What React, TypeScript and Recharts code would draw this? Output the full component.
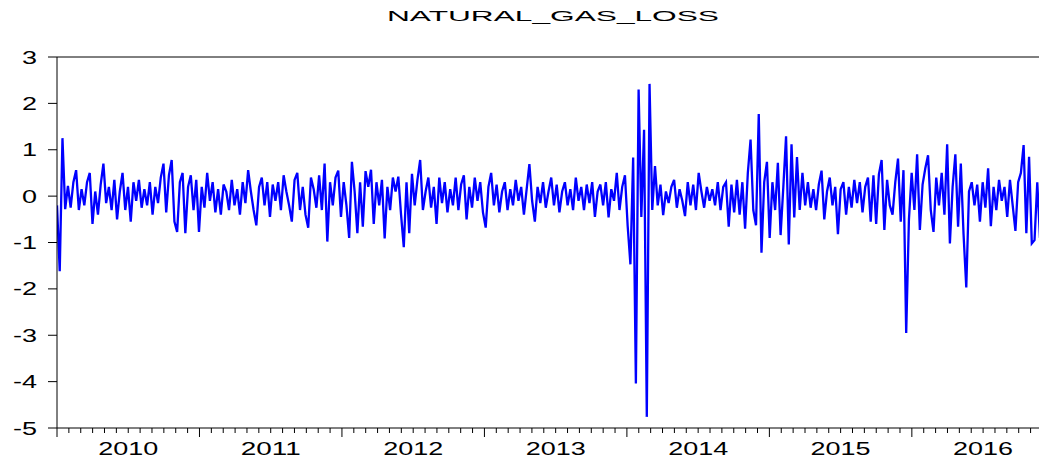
import { Line, LineChart, ReferenceLine, XAxis, YAxis } from "recharts";

// weekly readings of the series, grouped roughly by calendar year
const weeks2010 = [
  -0.2, -1.62, 1.25, -0.28, 0.22, -0.25, 0.3, 0.56, -0.3, 0.15, -0.2, 0.3, 0.5, -0.6, 0.1, -0.4, 0.25, 0.7,
  -0.15, 0.2, -0.3, 0.35, -0.5, 0.1, 0.5, -0.3, 0.2, -0.55, 0.3, -0.1, 0.35, -0.25, 0.15, -0.2, 0.3, -0.4,
  0.2, -0.15, 0.4, 0.7, -0.35, 0.45, 0.78, -0.55, -0.77, 0.3, 0.5, -0.8, 0.2, 0.45, -0.3, 0.35, -0.77,
];
const weeks2011 = [
  0.2, -0.25, 0.5, -0.1, 0.3, -0.35, 0.15, -0.4, 0.25, 0.1, -0.3, 0.35, -0.2, 0.15, -0.4, 0.3, -0.15, 0.56,
  0.1, -0.3, -0.63, 0.2, 0.4, -0.2, 0.3, -0.45, 0.25, -0.1, 0.3, -0.3, 0.45, 0.1, -0.2, -0.55, 0.35, 0.5,
  -0.3, 0.2, -0.4, -0.68, 0.4, 0.15, -0.25, 0.45, -0.3, 0.7, -0.98, 0.3, -0.2, 0.4, 0.55, -0.45, 0.3,
];
const weeks2012 = [
  -0.2, -0.9, 0.74, 0.1, -0.8, 0.3, -0.66, 0.54, 0.2, 0.57, -0.6, 0.3, -0.2, 0.35, -0.91, 0.2, -0.3, 0.4,
  0.1, 0.42, -0.4, -1.1, 0.3, -0.8, 0.48, -0.2, 0.35, 0.78, -0.3, 0.1, 0.4, -0.25, 0.2, -0.6, 0.4, -0.15,
  0.3, -0.35, 0.15, -0.2, 0.4, -0.3, 0.25, 0.45, -0.5, 0.2, -0.25, 0.4, -0.1, 0.3, -0.35, -0.68,
];
const weeks2013 = [
  0.2, 0.5, -0.2, 0.25, -0.35, 0.1, 0.3, -0.3, 0.15, -0.2, 0.35, -0.1, 0.2, -0.4, 0.15, 0.69, -0.1, -0.55,
  0.2, -0.15, 0.3, -0.25, 0.1, 0.4, -0.2, 0.25, -0.35, 0.1, 0.3, -0.2, 0.15, -0.3, 0.4, -0.1, 0.2, -0.3,
  0.25, -0.15, 0.3, -0.45, 0.1, 0.25, -0.2, 0.3, -0.46, 0.15, -0.1, 0.5, -0.3, 0.2, 0.45, -0.65,
];
const weeks2014 = [
  -1.47, 0.83, -4.04, 2.3, -0.45, 1.43, -4.76, 2.42, -0.3, 0.65, -0.2, 0.25, -0.41, 0.1, -0.15, 0.2, 0.35,
  -0.25, 0.15, -0.1, -0.43, 0.3, -0.2, 0.25, -0.3, 0.5, 0.1, -0.25, 0.2, -0.1, 0.15, -0.2, 0.3, -0.3, 0.2,
  0.3, -0.66, 0.25, -0.35, 0.35, -0.4, 0.3, -0.7, 0.5, 1.22, -0.3, -0.63, 1.77, -1.22, 0.3, 0.74, -0.9,
];
const weeks2015 = [
  0.3, -0.3, 0.72, -0.84, 0.2, 1.29, -1.04, 1.12, -0.46, 0.84, -0.3, 0.5, -0.2, 0.3, -0.25, 0.15, -0.3,
  0.25, 0.55, -0.5, 0.1, 0.4, -0.2, 0.2, -0.82, 0.15, 0.3, -0.4, 0.2, -0.25, 0.35, -0.15, 0.3, -0.35, 0.2,
  0.4, -0.55, 0.45, -0.6, 0.47, 0.78, -0.73, 0.35, -0.2, -0.4, 0.3, 0.81, -0.55, 0.56, -2.95, -0.5, 0.5,
];
const weeks2016 = [
  -0.3, 0.9, -0.73, 0.25, 0.6, 0.88, -0.3, -0.77, 0.4, -0.2, 0.5, -0.4, 1.12, -1.02, 0.2, 0.9, -0.66, 0.7,
  -0.82, -1.97, 0.1, 0.3, -0.2, 0.25, -0.55, 0.3, -0.25, 0.6, -0.65, 0.2, -0.3, 0.35, -0.1, 0.2, -0.45,
  0.35, -0.2, -0.75, 0.3, 0.5, 1.1, -0.8, 0.85, -1.02, -0.95, 0.3, -0.9,
];

const years = [2010, 2011, 2012, 2013, 2014, 2015, 2016];
const yTicks = [-5, -4, -3, -2, -1, 0, 1, 2, 3];

const WEEK = 7 / 365.25;
const series = [weeks2010, weeks2011, weeks2012, weeks2013, weeks2014, weeks2015, weeks2016].flat();
const data = series.map((v, i) => ({ t: 2010 + i * WEEK, loss: v }));
const tEnd = data[data.length - 1].t;

const monthTicks = years
  .flatMap((y) => Array.from({ length: 12 }, (_, m) => y + m / 12))
  .filter((t) => t <= tEnd);

const FONT = "'Liberation Sans', Arial, sans-serif";

function MonthTick({ x, y, payload }: any) {
  const t = payload.value as number;
  const year = Math.floor(t + 1e-6);
  const m = Math.round((t - year) * 12);
  return (
    <g>
      <line x1={x} y1={y} x2={x} y2={y + (m === 0 ? 9 : 5)} stroke="#000" />
      {m === 6 && (
        <text
          x={x}
          y={y + 27}
          textAnchor="middle"
          fontSize={18}
          fontFamily={FONT}
          fill="#000"
          textLength={60}
          lengthAdjust="spacingAndGlyphs"
        >
          {year}
        </text>
      )}
    </g>
  );
}

function ValueTick({ x, y, payload }: any) {
  return (
    <text
      transform={`translate(${x},${y + 6.5}) scale(1.5,1)`}
      textAnchor="end"
      fontSize={18}
      fontFamily={FONT}
      fill="#000"
    >
      {payload.value}
    </text>
  );
}

export default function App() {
  return (
    <div style={{ position: "absolute", left: 0, top: 0, width: 1039, height: 459, overflow: "hidden", background: "#fff" }}>
      <LineChart width={1041} height={459} data={data} margin={{ top: 57, right: 1, bottom: 0, left: 0 }}>
        <XAxis
          dataKey="t"
          type="number"
          domain={[2010, tEnd]}
          ticks={monthTicks}
          interval={0}
          tick={<MonthTick />}
          tickLine={false}
          tickSize={0}
          tickMargin={0}
          height={31}
          axisLine={{ stroke: "#000" }}
          allowDataOverflow
        />
        <YAxis
          type="number"
          domain={[-5, 3]}
          ticks={yTicks}
          interval={0}
          width={57}
          tickSize={9}
          tickMargin={11}
          tickLine={{ stroke: "#000" }}
          axisLine={{ stroke: "#000" }}
          tick={<ValueTick />}
        />
        <ReferenceLine y={3} stroke="#000" />
        <Line
          dataKey="loss"
          type="linear"
          stroke="#0000ff"
          strokeWidth={2.3}
          strokeLinejoin="miter"
          dot={false}
          isAnimationActive={false}
        />
      </LineChart>
      <svg width={1039} height={40} style={{ position: "absolute", left: 0, top: 0, pointerEvents: "none" }}>
        <text
          x={553}
          y={21}
          textAnchor="middle"
          fontSize={15.5}
          fontFamily={FONT}
          fill="#000"
          textLength={332}
          lengthAdjust="spacingAndGlyphs"
        >
          NATURAL_GAS_LOSS
        </text>
      </svg>
    </div>
  );
}
